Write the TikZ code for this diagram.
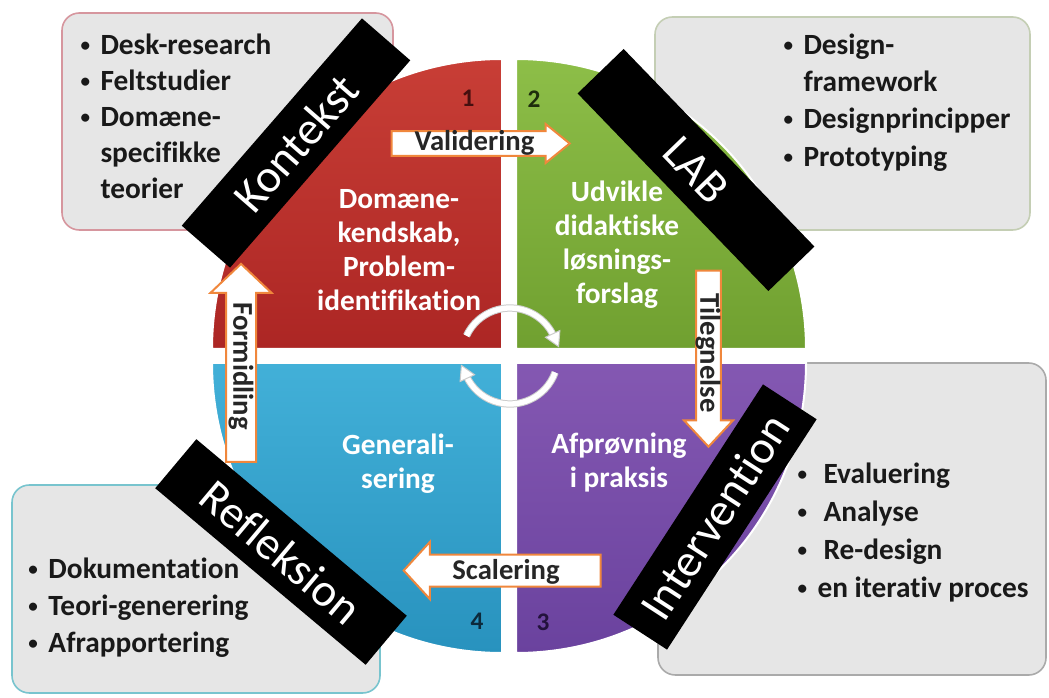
\documentclass[tikz,border=0pt]{standalone}
\usepackage{fontspec}
\setmainfont{Carlito}[Ligatures=NoCommon]
\usepackage{tikz}
\usetikzlibrary{shapes.arrows}
\definecolor{redtop}{RGB}{200,62,54}
\definecolor{redbot}{RGB}{172,38,36}
\definecolor{greentop}{RGB}{141,190,72}
\definecolor{greenbot}{RGB}{112,160,48}
\definecolor{purptop}{RGB}{132,88,178}
\definecolor{purpbot}{RGB}{106,66,158}
\definecolor{bluetop}{RGB}{66,176,216}
\definecolor{bluebot}{RGB}{40,146,190}
\definecolor{boxfill}{RGB}{230,230,230}
\definecolor{boxred}{RGB}{214,150,158}
\definecolor{boxgreen}{RGB}{196,206,180}
\definecolor{boxteal}{RGB}{120,196,206}
\definecolor{boxgrey}{RGB}{170,170,170}
\definecolor{arroworange}{RGB}{240,135,60}
\definecolor{numred}{RGB}{70,15,15}
\definecolor{numgreen}{RGB}{30,45,12}
\definecolor{numpurple}{RGB}{35,18,60}
\definecolor{numblue}{RGB}{12,42,60}
\newcommand{\itm}{\makebox[15pt][l]{\raisebox{0.1em}{\scalebox{0.65}{\textbullet}}}}
\tikzset{every picture/.style={line width=0.75pt}}
\tikzset{
  listbox/.style={fill=boxfill, line width=1.2pt, rounded corners=13pt},
  listtext/.style={anchor=north west, inner sep=0pt, align=left, text=black!90, font=\bfseries\fontsize{22}{27}\selectfont},
  quadtext/.style={inner sep=0pt, align=center, text=white, font=\bfseries\fontsize{22}{25.5}\selectfont},
  stepnum/.style={inner sep=0pt, font=\bfseries\fontsize{19}{22}\selectfont},
  band/.style={fill=black, text=white, inner sep=0pt, minimum width=206pt, minimum height=48pt, font=\fontsize{35}{40}\selectfont},
  blockarrow/.style={single arrow, draw=arroworange, fill=white, line width=1.5pt, inner xsep=0pt},
  arrowtext/.style={inner sep=0pt, text=black!85, font=\bfseries\fontsize{21.5}{24}\selectfont},
  cyclearc/.style={draw=black!20, double=white, double distance=4pt, line width=0.75pt},
}

\begin{document}
\begin{tikzpicture}[x=0.75pt,y=0.75pt,yscale=-1,xscale=1]
\useasboundingbox (0,0) rectangle (1049,698);

%Shape: Rounded Rectangle (list boxes)
\draw [listbox, draw=boxred] (62,13) rectangle (393,230) ;
\draw [listbox, draw=boxgreen] (655,17) rectangle (1030,230) ;
\draw [listbox, draw=boxteal] (12,485) rectangle (380,693) ;
\draw [listbox, draw=boxgrey] (658,363) rectangle (1046,675) ;

% Text Node (lists)
\node [listtext] (kontekst list) at (80,33) {\itm Desk-research\\\itm Feltstudier\\\itm Domæne-\\\makebox[15pt]{}specifikke\\\makebox[15pt]{}teorier};
\node [listtext, font=\bfseries\fontsize{22}{28}\selectfont] (lab list) at (783,33) {\itm Design-\\\makebox[15pt]{}framework\\\itm Designprincipper\\\itm Prototyping};
\node [listtext, font=\bfseries\fontsize{22}{28}\selectfont] (refleksion list) at (28,557) {\itm Dokumentation\\\itm Teori-generering\\\itm Afrapportering};
\node [listtext, font=\bfseries\fontsize{22}{28.7}\selectfont] (intervention list) at (797,462) {\itm\hspace{4.5pt}Evaluering\\\itm\hspace{4.5pt}Analyse\\\itm\hspace{4.5pt}Re-design\\\itm en iterativ proces};

%Shape: Quarter circles
\path [top color=redtop, bottom color=redbot, draw=white, line width=1.5pt] (502,349) -- (212,349) arc [start angle=180, end angle=270, radius=290] -- cycle ;
\path [top color=greentop, bottom color=greenbot, draw=white, line width=1.5pt] (516,349) -- (516,59) arc [start angle=270, end angle=360, radius=290] -- cycle ;
\path [top color=purptop, bottom color=purpbot, draw=white, line width=1.5pt] (516,363) -- (806,363) arc [start angle=0, end angle=90, radius=290] -- cycle ;
\path [top color=bluetop, bottom color=bluebot, draw=white, line width=1.5pt] (502,363) -- (502,653) arc [start angle=90, end angle=180, radius=290] -- cycle ;

% Text Node (quadrants)
\node [quadtext] (red text) at (399,250) {Domæne-\\kendskab,\\Problem-\\identifikation};
\node [quadtext] (green text) at (617,245) {Udvikle\\didaktiske\\løsnings-\\forslag};
\node [quadtext] (blue text) at (398,464) {Generali-\\sering};
\node [quadtext] (purple text) at (619,463) {Afprøvning\\i praksis};

% Text Node (step numbers)
\node [stepnum, text=numred] (one) at (468,98) {1};
\node [stepnum, text=numgreen] (two) at (534,99) {2};
\node [stepnum, text=numpurple] (three) at (543,622) {3};
\node [stepnum, text=numblue] (four) at (477,621) {4};

%Curve Lines: cycle in the middle
\draw [cyclearc] (510,356) ++(-155:48) arc [start angle=-155, end angle=-25, radius=48] ;
\draw [shift={(553.5,335.7)}, rotate=65, fill=white, draw=black!20] (-2,-8) -- (12,0) -- (-2,8) -- cycle ;
\draw [cyclearc] (510,356) ++(20:48) arc [start angle=20, end angle=155, radius=48] ;
\draw [shift={(466.5,376.3)}, rotate=245, fill=white, draw=black!20] (-2,-8) -- (12,0) -- (-2,8) -- cycle ;

% Black bands
\node [band, rotate=49] (kontekst) at (296,143) {Kontekst};
\node [band, rotate=-46] (lab) at (696,170) {LAB};
\node [band, rotate=-40] (refleksion) at (281,552) {Refleksion};
\node [band, rotate=57] (intervention) at (715,517) {Intervention};

%Block arrows
\node [blockarrow, inner ysep=8.6pt, single arrow head extend=5.25pt, single arrow tip angle=78, minimum height=133.5pt] (validering) at (473,143.5) {};
\node [blockarrow, rotate=-90, inner ysep=8.6pt, single arrow head extend=9pt, single arrow tip angle=86, minimum height=132pt] (tilegnelse) at (708.5,352) {};
\node [blockarrow, rotate=180, inner ysep=11.25pt, single arrow head extend=9.4pt, single arrow tip angle=95, minimum height=147.75pt] (scalering) at (509.5,570.5) {};
\node [blockarrow, rotate=90, inner ysep=10.5pt, single arrow head extend=11.6pt, single arrow tip angle=93, minimum height=148.5pt] (formidling) at (241,370) {};

% Text Node (arrow labels)
\node [arrowtext] (validering text) at (474.5,143) {Validering};
\node [arrowtext, rotate=-90] (tilegnelse text) at (708,353) {Tilegnelse};
\node [arrowtext] (scalering text) at (506,572) {Scalering};
\node [arrowtext, rotate=-90] (formidling text) at (241,366) {Formidling};

\end{tikzpicture}
\end{document}
